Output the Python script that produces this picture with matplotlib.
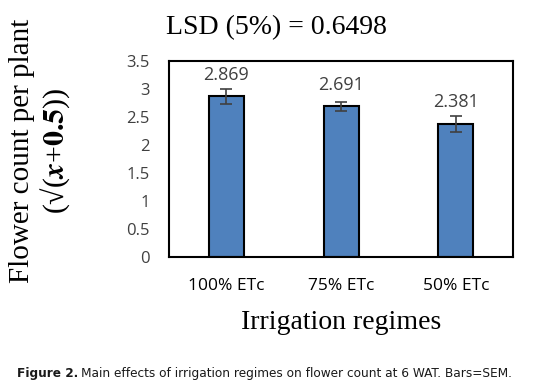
import matplotlib.pyplot as plt
import numpy as np

categories = ["100% ETc", "75% ETc", "50% ETc"]
means = [2.869, 2.691, 2.381]
sem = [0.13, 0.075, 0.145]
yticks = [0, 0.5, 1, 1.5, 2, 2.5, 3, 3.5]
ytick_labels = ["0", "0.5", "1", "1.5", "2", "2.5", "3", "3.5"]

plt.rcParams['mathtext.fontset'] = 'stix'

fig = plt.figure(figsize=(5.48, 3.91), dpi=100)
ax = fig.add_axes([0.3084, 0.3427, 0.628, 0.501])

x = np.arange(len(categories))
ax.bar(x, means, width=0.306, color="#4F81BD", edgecolor="black", linewidth=1.5,
       yerr=sem, error_kw=dict(ecolor="#404040", elinewidth=1.2, capsize=4, capthick=1.2))

# value labels above bars
for xi, m in zip(x, means):
    ax.text(xi, m + 0.38, f"{m:.3f}", ha="center", va="center",
            fontsize=13, color="#404040", family="Open Sans")

ax.set_xlim(-0.5, 2.5)
ax.set_ylim(0, 3.5)
ax.set_yticks(yticks)
ax.set_yticklabels(ytick_labels, fontsize=12, color="#404040", family="Open Sans")
ax.set_xticks(x)
ax.set_xticklabels(categories, fontsize=12.5, color="black", family="Open Sans")
ax.tick_params(axis="both", length=0)
ax.tick_params(axis="y", pad=14)
ax.tick_params(axis="x", pad=15)
for sp in ax.spines.values():
    sp.set_linewidth(1.5)
    sp.set_color("black")

fig.text(0.505, 0.93, "LSD (5%) = 0.6498", ha="center", va="center",
         fontsize=20, family="Liberation Serif")
fig.text(0.04, 0.614, "Flower count per plant", rotation=90, ha="center", va="center",
         fontsize=21, family="Liberation Serif")
fig.text(0.10, 0.614, r"(√($\boldsymbol{x}$+$\mathbf{0.5}$))", rotation=90,
         ha="center", va="center", fontsize=21.5, family="Liberation Serif")
fig.text(0.623, 0.175, "Irrigation regimes", ha="center", va="center",
         fontsize=20, family="Liberation Serif")

# caption: bold prefix followed by regular text
renderer = fig.canvas.get_renderer()
t1 = fig.text(0.031, 0.046, "Figure 2.", ha="left", va="center", fontsize=9.7,
              fontweight="bold", family="DejaVu Sans", fontstretch="condensed", color="#1a1a1a")
bb = t1.get_window_extent(renderer=renderer)
x2 = (bb.x1 + 3) / fig.bbox.width
fig.text(x2, 0.046, "Main effects of irrigation regimes on flower count at 6 WAT. Bars=SEM.",
         ha="left", va="center", fontsize=9.7, family="DejaVu Sans", fontstretch="condensed",
         color="#1a1a1a")

fig.savefig("out.png", dpi=100)
